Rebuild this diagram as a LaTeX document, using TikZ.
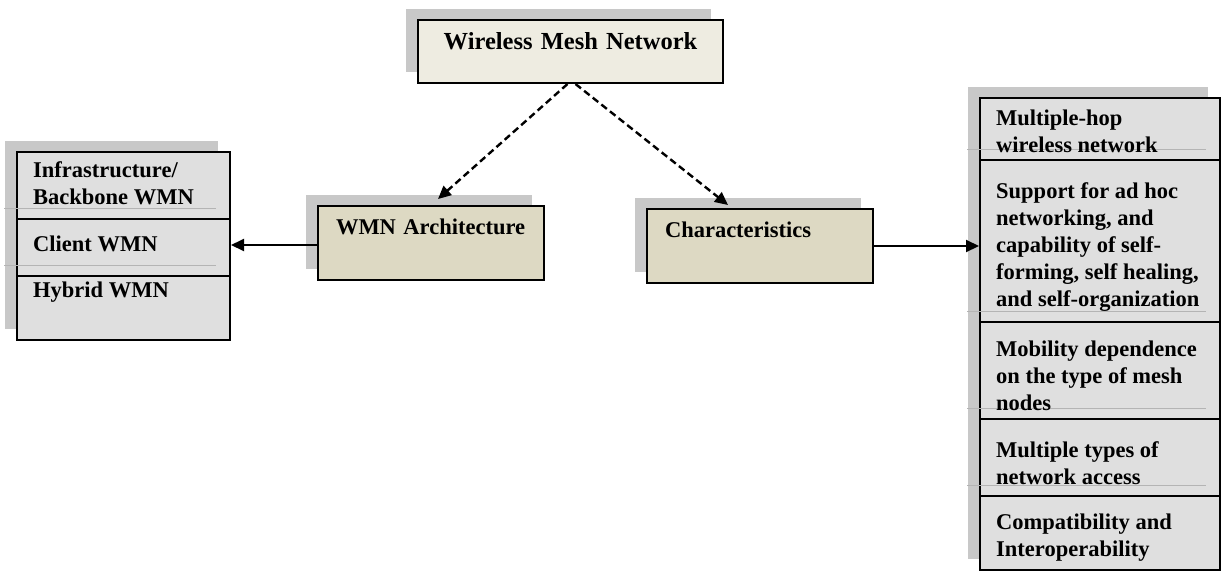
\documentclass[tikz,border=0pt]{standalone}
\usepackage{fontspec}
\setmainfont{Liberation Serif}
\usepackage{tikz}
\usetikzlibrary{arrows.meta,positioning,shadows}
\definecolor{topfill}{HTML}{EEECE1}
\definecolor{tanfill}{HTML}{DDD9C3}
\definecolor{listfill}{HTML}{DFDFDF}
\definecolor{shadowgray}{HTML}{C8C8C8}
\definecolor{ghostgray}{HTML}{B4B4B4}

\begin{document}
\begin{tikzpicture}[x=1pt, y=-1pt, >=Latex,
  font=\bfseries\fontsize{22.5}{27}\selectfont,
  shade/.style={drop shadow={shadow xshift=-12pt, shadow yshift=11pt, fill=shadowgray, opacity=1}},
  head/.style={draw, line width=2pt, fill=tanfill, shade, anchor=north west, align=left,
    text width=190pt, inner xsep=18pt, inner ysep=0pt, text height=28pt, text depth=46pt},
  listbox/.style={draw, line width=2pt, fill=listfill, shade, anchor=north west, inner sep=0pt},
  item/.style={align=left, inner sep=0pt, anchor=base west},
  divider/.style={line width=2pt},
  ghost/.style={ghostgray, line width=0.8pt},
  arr/.style={-{Triangle[length=13pt,width=12pt]}, line width=2pt},
  dasharr/.style={-{Triangle[length=13pt,width=12pt]}, line width=2.4pt, dash pattern=on 7pt off 4pt}]
  \useasboundingbox (0,0) rectangle (1225,571);
  \node[head, fill=topfill, align=center, text width=269pt, text height=29pt, text depth=34pt,
        font=\bfseries\fontsize{24.5}{29}\selectfont] (wmn) at (417,19) {Wireless Mesh Network};
  \node[head] (arch) at (317,205) {WMN Architecture};
  \node[head] (char) at (646,208) {Characteristics};
  \node[listbox, minimum width=213pt, minimum height=188pt] (types) at (16,151) {};
  \node[listbox, minimum width=240pt, minimum height=472pt] (feats) at (979,97) {};
  \foreach \y in {208,265} \draw[ghost] (4,\y) -- (216,\y);
  \foreach \y in {149,311,408,485} \draw[ghost] (967,\y) -- (1206,\y);
  \foreach \y in {219,276} \draw[divider] (types.west |- 0,\y) -- (types.east |- 0,\y);
  \foreach \y in {160,322,419,496} \draw[divider] (feats.west |- 0,\y) -- (feats.east |- 0,\y);
  \node[item] (infra)  at (33,204) {Infrastructure/\\Backbone WMN};
  \node[item] (client) at (33,251) {Client WMN};
  \node[item] (hybrid) at (33,297) {Hybrid WMN};
  \node[item] (hop)      at (996,152) {Multiple-hop\\wireless network};
  \node[item] (adhoc)    at (996,306) {Support for ad hoc\\networking, and\\capability of self-\\forming, self healing,\\and self-organization};
  \node[item] (mobility) at (996,410) {Mobility dependence\\on the type of mesh\\nodes};
  \node[item] (access)   at (996,484) {Multiple types of\\network access};
  \node[item] (compat)   at (996,556) {Compatibility and\\Interoperability};
  \draw[dasharr] ([xshift=-3pt]wmn.south) -- ([xshift=7pt,yshift=6pt]arch.north);
  \draw[dasharr] ([xshift=5pt]wmn.south) -- ([xshift=-32pt,yshift=3pt]char.north);
  \draw[arr] ([yshift=-2pt]arch.west) -- ([yshift=-2pt]arch.west -| types.east);
  \draw[arr] (char.east) -- (char.east -| feats.west);
\end{tikzpicture}
\end{document}
